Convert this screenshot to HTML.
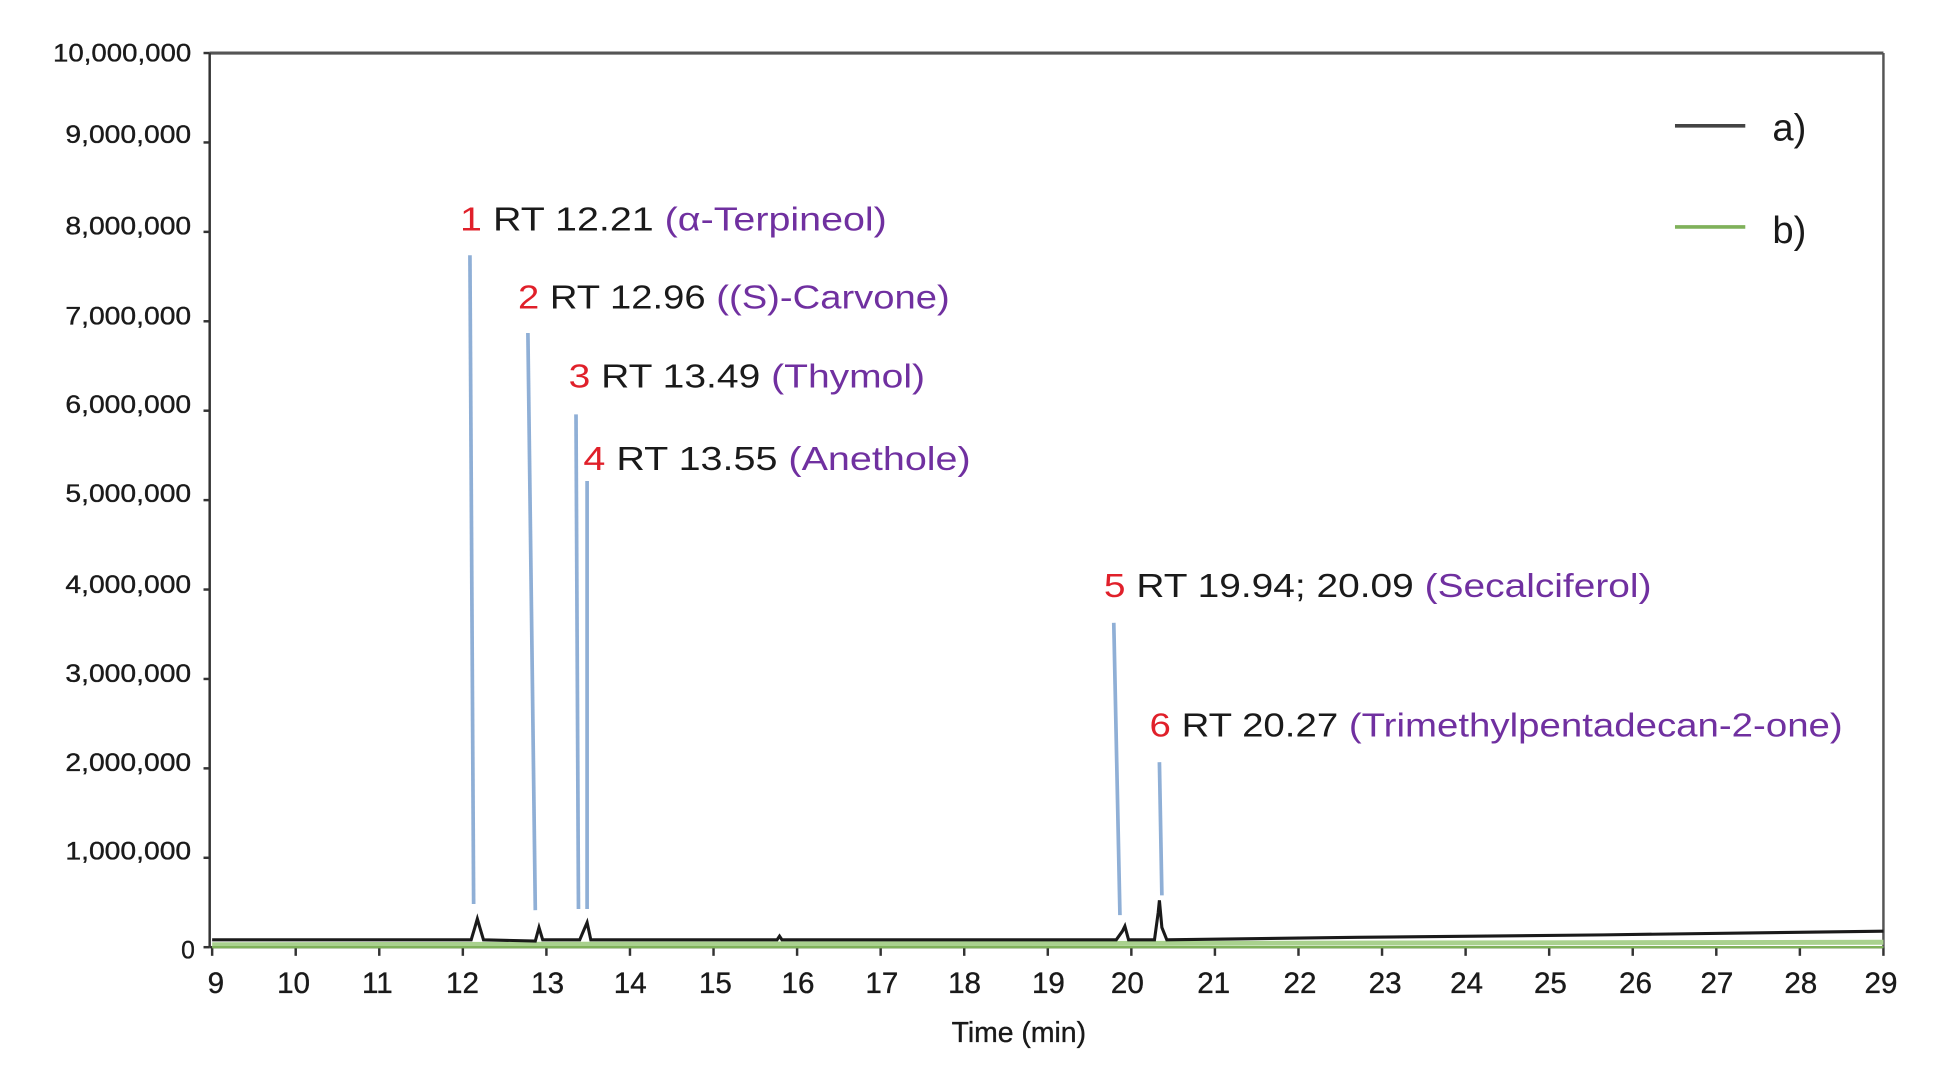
<!DOCTYPE html>
<html><head><meta charset="utf-8"><style>html,body{margin:0;padding:0;background:#fff}svg{display:block}</style></head>
<body>
<svg width="1934" height="1073" viewBox="0 0 1568 870" preserveAspectRatio="none" xmlns="http://www.w3.org/2000/svg" font-family="Liberation Sans, sans-serif">
<rect width="1568" height="870" fill="#fff"/>
<line x1="170" y1="43" x2="1527" y2="43" stroke="#555" stroke-width="2.5"/>
<line x1="1527" y1="43" x2="1527" y2="768" stroke="#555" stroke-width="2"/>
<line x1="170" y1="43" x2="170" y2="768" stroke="#333" stroke-width="2"/>
<line x1="170" y1="768" x2="1527" y2="768" stroke="#333" stroke-width="2"/>
<g stroke="#333" stroke-width="2">
<line x1="165" y1="43" x2="170" y2="43"/><line x1="165" y1="115.5" x2="170" y2="115.5"/><line x1="165" y1="188" x2="170" y2="188"/><line x1="165" y1="260.5" x2="170" y2="260.5"/><line x1="165" y1="333" x2="170" y2="333"/><line x1="165" y1="405.5" x2="170" y2="405.5"/><line x1="165" y1="478" x2="170" y2="478"/><line x1="165" y1="550.5" x2="170" y2="550.5"/><line x1="165" y1="623" x2="170" y2="623"/><line x1="165" y1="695.5" x2="170" y2="695.5"/><line x1="165" y1="768" x2="170" y2="768"/>
</g>
<g font-size="20" fill="#1a1a1a" text-anchor="end" stroke="#1a1a1a" stroke-width="0.3">
<text x="155" y="50" textLength="112" lengthAdjust="spacingAndGlyphs">10,000,000</text>
<text x="155" y="116" textLength="102" lengthAdjust="spacingAndGlyphs">9,000,000</text>
<text x="155" y="190" textLength="102" lengthAdjust="spacingAndGlyphs">8,000,000</text>
<text x="155" y="263" textLength="102" lengthAdjust="spacingAndGlyphs">7,000,000</text>
<text x="155" y="335" textLength="102" lengthAdjust="spacingAndGlyphs">6,000,000</text>
<text x="155" y="407" textLength="102" lengthAdjust="spacingAndGlyphs">5,000,000</text>
<text x="155" y="481" textLength="102" lengthAdjust="spacingAndGlyphs">4,000,000</text>
<text x="155" y="553" textLength="102" lengthAdjust="spacingAndGlyphs">3,000,000</text>
<text x="155" y="625" textLength="102" lengthAdjust="spacingAndGlyphs">2,000,000</text>
<text x="155" y="697" textLength="102" lengthAdjust="spacingAndGlyphs">1,000,000</text>
<text x="158" y="777">0</text>
</g>
<g stroke="#333" stroke-width="2">
<line x1="172" y1="768" x2="172" y2="775"/><line x1="239.75" y1="768" x2="239.75" y2="775"/><line x1="307.5" y1="768" x2="307.5" y2="775"/><line x1="375.25" y1="768" x2="375.25" y2="775"/><line x1="443" y1="768" x2="443" y2="775"/><line x1="510.75" y1="768" x2="510.75" y2="775"/><line x1="578.5" y1="768" x2="578.5" y2="775"/><line x1="646.25" y1="768" x2="646.25" y2="775"/><line x1="714" y1="768" x2="714" y2="775"/><line x1="781.75" y1="768" x2="781.75" y2="775"/><line x1="849.5" y1="768" x2="849.5" y2="775"/><line x1="917.25" y1="768" x2="917.25" y2="775"/><line x1="985" y1="768" x2="985" y2="775"/><line x1="1052.75" y1="768" x2="1052.75" y2="775"/><line x1="1120.5" y1="768" x2="1120.5" y2="775"/><line x1="1188.25" y1="768" x2="1188.25" y2="775"/><line x1="1256" y1="768" x2="1256" y2="775"/><line x1="1323.75" y1="768" x2="1323.75" y2="775"/><line x1="1391.5" y1="768" x2="1391.5" y2="775"/><line x1="1459.25" y1="768" x2="1459.25" y2="775"/><line x1="1527" y1="768" x2="1527" y2="775"/>
</g>
<g font-size="24" fill="#1a1a1a" text-anchor="middle" stroke="#1a1a1a" stroke-width="0.3">
<text x="175" y="805">9</text><text x="238" y="805">10</text><text x="306" y="805">11</text><text x="375" y="805">12</text><text x="444" y="805">13</text><text x="511" y="805">14</text><text x="580" y="805">15</text><text x="647" y="805">16</text><text x="715" y="805">17</text><text x="782" y="805">18</text><text x="850" y="805">19</text><text x="914" y="805">20</text><text x="984" y="805">21</text><text x="1054" y="805">22</text><text x="1123" y="805">23</text><text x="1189" y="805">24</text><text x="1257" y="805">25</text><text x="1326" y="805">26</text><text x="1392" y="805">27</text><text x="1460" y="805">28</text><text x="1525" y="805">29</text>
</g>
<text x="826" y="845" font-size="23" fill="#1a1a1a" text-anchor="middle" stroke="#1a1a1a" stroke-width="0.3">Time (min)</text>
<path d="M172 766 L1527 764" stroke="#a9d18e" stroke-width="4" fill="none"/>
<path d="M172 768 L1527 768" stroke="#7fb15a" stroke-width="2" fill="none"/>
<path d="M172 762 L382 762 L385 752 L387 745 L389 752 L392 762 L434 763 L437 752 L440 762 L470 762 L473 755 L476 748 L479 762 L630 762 L632 759 L634 762 L905 762 L910 755 L912 751 L915 762 L936 762 L939 740 L940 730 L942 752 L946 762 L1100 760 L1300 758 L1527 755" stroke="#1a1a1a" stroke-width="2.5" fill="none"/>
<g stroke="#8fafd6" stroke-width="3">
<line x1="381" y1="207" x2="384" y2="733"/>
<line x1="428" y1="270" x2="434" y2="738"/>
<line x1="467" y1="336" x2="469" y2="737"/>
<line x1="476" y1="390" x2="476" y2="737"/>
<line x1="903" y1="505" x2="908" y2="742"/>
<line x1="940" y1="618" x2="942" y2="726"/>
</g>
<g font-size="27" stroke-width="0.3">
<text x="373" y="187" textLength="346" lengthAdjust="spacingAndGlyphs"><tspan fill="#e0202a">1</tspan><tspan fill="#1a1a1a"> RT 12.21 </tspan><tspan fill="#7030a0">(α-Terpineol)</tspan></text>
<text x="420" y="250" textLength="350" lengthAdjust="spacingAndGlyphs"><tspan fill="#e0202a">2</tspan><tspan fill="#1a1a1a"> RT 12.96 </tspan><tspan fill="#7030a0">((S)-Carvone)</tspan></text>
<text x="461" y="314" textLength="289" lengthAdjust="spacingAndGlyphs"><tspan fill="#e0202a">3</tspan><tspan fill="#1a1a1a"> RT 13.49 </tspan><tspan fill="#7030a0">(Thymol)</tspan></text>
<text x="473" y="381" textLength="314" lengthAdjust="spacingAndGlyphs"><tspan fill="#e0202a">4</tspan><tspan fill="#1a1a1a"> RT 13.55 </tspan><tspan fill="#7030a0">(Anethole)</tspan></text>
<text x="895" y="484" textLength="444" lengthAdjust="spacingAndGlyphs"><tspan fill="#e0202a">5</tspan><tspan fill="#1a1a1a"> RT 19.94; 20.09 </tspan><tspan fill="#7030a0">(Secalciferol)</tspan></text>
<text x="932" y="597" textLength="562" lengthAdjust="spacingAndGlyphs"><tspan fill="#e0202a">6</tspan><tspan fill="#1a1a1a"> RT 20.27 </tspan><tspan fill="#7030a0">(Trimethylpentadecan-2-one)</tspan></text>
</g>
<line x1="1358" y1="102" x2="1415" y2="102" stroke="#444" stroke-width="3"/>
<line x1="1358" y1="184" x2="1415" y2="184" stroke="#7fb15a" stroke-width="3"/>
<text x="1437" y="114" font-size="31" fill="#1a1a1a">a)</text>
<text x="1437" y="197" font-size="31" fill="#1a1a1a">b)</text>
</svg>
</body></html>
